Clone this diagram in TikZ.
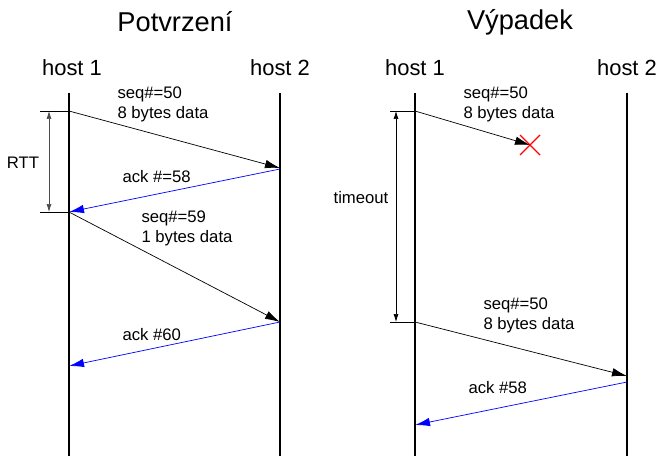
\documentclass[tikz,border=0pt]{standalone}
\usepackage{fontspec}
\setmainfont{Liberation Sans}
\usetikzlibrary{arrows.meta, positioning, calc}

\begin{document}
\begin{tikzpicture}[x=0.02cm, y=-0.02cm, >={Latex[length=3mm, width=1.7mm]}, semithick,
                  life/.style={line width=1.1pt},
                  msg/.style={->, thin},
                  ack/.style={->, thin, blue},
                  span/.style={{Latex[length=1.6mm, width=1mm]}-{Latex[length=1.6mm, width=1mm]}, thin},
                  tick/.style={thin},
                  title/.style={font=\fontsize{15.5}{18}\selectfont},
                  host/.style={font=\fontsize{12.5}{14}\selectfont},
                  lbl/.style={font=\fontsize{9.5}{11.3}\selectfont, align=left,
                              anchor=north west, inner sep=0pt},
                  small/.style={font=\fontsize{9.5}{11}\selectfont, inner sep=0pt}]

  \useasboundingbox (0,0) rectangle (660,456);

  % Nadpisy obou scenaru.
  \node[title] (t1) at (175,22) {Potvrzení};
  \node[title] (t2) at (520,22) {Výpadek};

  % Casove osy obou stanic.
  \node[host] (a1) at (72,68) {host 1};
  \node[host] (a2) at (280,68) {host 2};
  \node[host] (b1) at (415,68) {host 1};
  \node[host] (b2) at (627,68) {host 2};

  \coordinate (a1top) at (69,93);   \coordinate (a1bot) at (69,456);
  \coordinate (a2top) at (280,93);  \coordinate (a2bot) at (280,456);
  \coordinate (b1top) at (415,93);  \coordinate (b1bot) at (415,456);
  \coordinate (b2top) at (627,93);  \coordinate (b2bot) at (627,456);

  \draw[life] (a1top) -- (a1bot);
  \draw[life] (a2top) -- (a2bot);
  \draw[life] (b1top) -- (b1bot);
  \draw[life] (b2top) -- (b2bot);

  % Body zprav na osach.
  \coordinate (p1) at (69,111);   \coordinate (q1) at (280,168);
  \coordinate (p2) at (69,212);   \coordinate (q2) at (280,169);
  \coordinate (q3) at (280,322);  \coordinate (p4) at (69,366);
  \coordinate (r1) at (415,111);  \coordinate (lost) at (530,145);
  \coordinate (r2) at (415,322);  \coordinate (s2) at (627,376);
  \coordinate (s3) at (627,382);  \coordinate (r3) at (415,425);

  % Potvrzeni: data a ack.
  \draw[msg] (p1) -- (q1);
  \draw[ack] (q2) -- (p2);
  \draw[msg] (p2) -- (q3);
  \draw[ack] (q3) -- (p4);

  \node[lbl] (m1) at (117,86) {seq\#=50\\8 bytes data};
  \node[lbl, anchor=west] (m2) at (122,177) {ack \#=58};
  \node[lbl] (m3) at (141,210) {seq\#=59\\1 bytes data};
  \node[lbl, anchor=west] (m4) at (122,335) {ack \#60};

  % RTT
  \coordinate (rtt1) at (49,111);  \coordinate (rtt2) at (49,212);
  \draw[tick] (40,111) -- (p1);
  \draw[tick] (40,212) -- (p2);
  \draw[span, black!70] (rtt1) -- (rtt2);
  \node[small] (rtt) at (23,163) {RTT};

  % Vypadek: ztraceny segment a opakovani.
  \draw[msg] (r1) -- (lost);
  \draw[red, thick] ($(lost)+(-10,-10)$) -- ($(lost)+(10,10)$)
                    ($(lost)+(-10,10)$) -- ($(lost)+(10,-10)$);
  \draw[msg] (r2) -- (s2);
  \draw[ack] (s3) -- (r3);

  \node[lbl] (n1) at (463,86) {seq\#=50\\8 bytes data};
  \node[lbl] (n2) at (483,297) {seq\#=50\\8 bytes data};
  \node[lbl, anchor=west] (n3) at (468,388) {ack \#58};

  % timeout
  \coordinate (to1) at (396,111);  \coordinate (to2) at (396,322);
  \draw[tick] (390,111) -- (r1);
  \draw[tick] (390,322) -- (r2);
  \draw[span] (to1) -- (to2);
  \node[small] (tout) at (361,198) {timeout};

\end{tikzpicture}
\end{document}
